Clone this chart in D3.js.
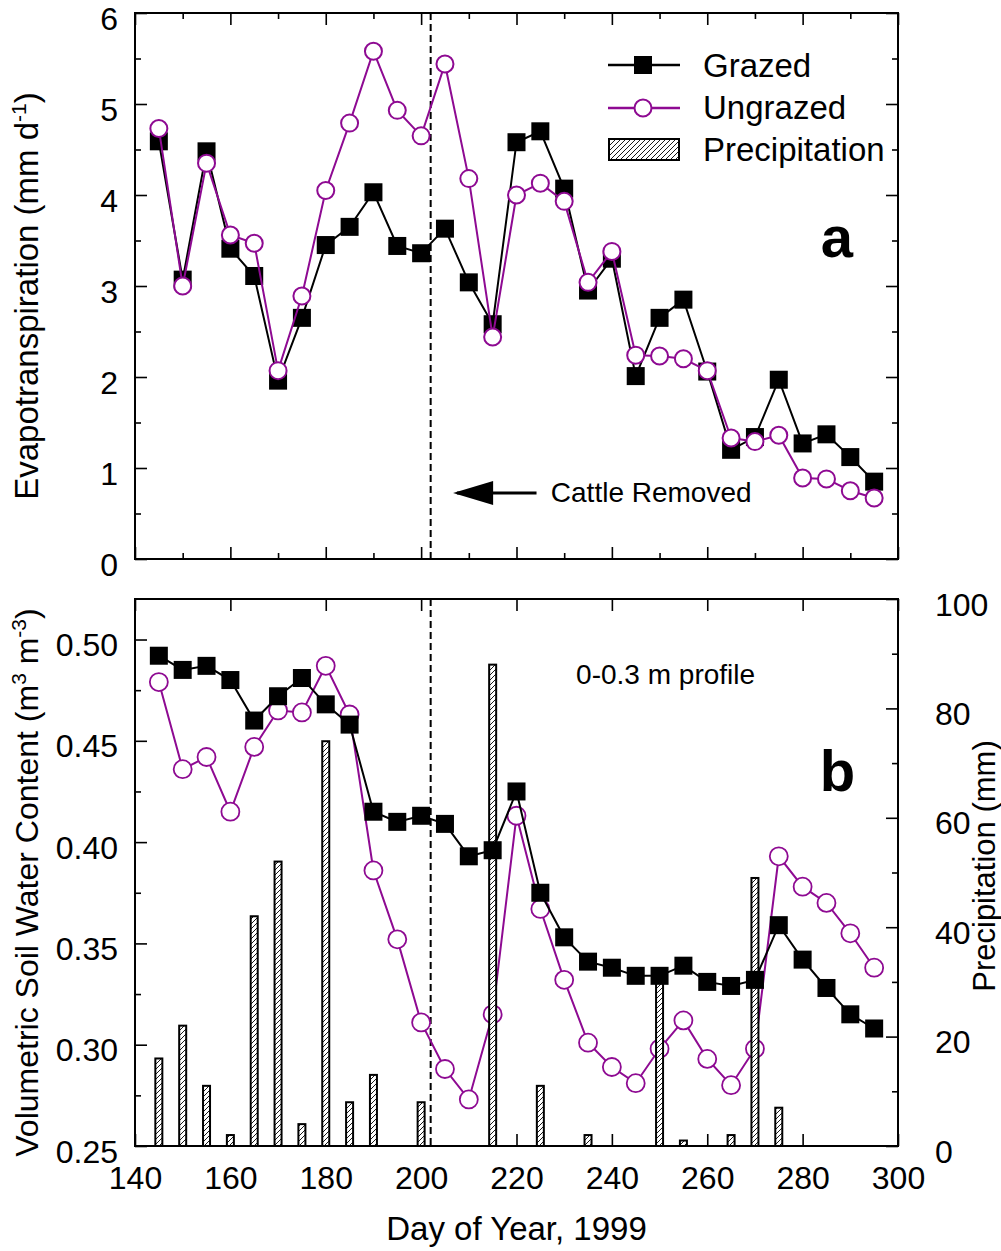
<!DOCTYPE html>
<html>
<head>
<meta charset="utf-8">
<script src="https://cdn.jsdelivr.net/npm/d3@7"></script>
<style>
  html, body { margin: 0; padding: 0; background: #fff; }
  svg { display: block; }
  text { font-family: "Liberation Sans", Arial, sans-serif; fill: #000; }
</style>
</head>
<body>
<svg id="chart" width="1001" height="1251"></svg>
<script>
// ---------------- DATA ----------------
const days = [145,150,155,160,165,170,175,180,185,190,195,200,205,210,215,220,225,230,235,240,245,250,255,260,265,270,275,280,285,290,295];
const etGrazed   = [4.59,3.07,4.48,3.41,3.11,1.96,2.65,3.45,3.65,4.03,3.44,3.36,3.63,3.04,2.58,4.58,4.70,4.07,2.95,3.30,2.01,2.65,2.85,2.06,1.20,1.34,1.97,1.27,1.37,1.12,0.85];
const etUngrazed = [4.73,3.00,4.35,3.56,3.47,2.07,2.89,4.05,4.79,5.58,4.93,4.65,5.44,4.18,2.44,4.00,4.13,3.93,3.04,3.38,2.24,2.23,2.20,2.07,1.33,1.29,1.36,0.89,0.88,0.75,0.67];
const swcGrazed   = [0.492,0.485,0.487,0.480,0.460,0.472,0.481,0.468,0.458,0.415,0.410,0.413,0.409,0.393,0.396,0.425,0.375,0.353,0.341,0.338,0.334,0.334,0.339,0.331,0.329,0.332,0.359,0.342,0.328,0.315,0.308];
const swcUngrazed = [0.479,0.436,0.442,0.415,0.447,0.465,0.464,0.487,0.463,0.386,0.352,0.311,0.288,0.273,0.315,0.413,0.367,0.332,0.301,0.289,0.281,0.298,0.312,0.293,0.280,0.298,0.393,0.378,0.370,0.355,0.338];
const precip = [16,22,11,2,42,52,4,74,8,13,0,8,0,0,88,0,11,0,2,0,0,30,1,0,2,49,7,0,0,0,0];
const xTicks = [140,160,180,200,220,240,260,280,300];
const etTicks = [0,1,2,3,4,5,6];
const swcTicks = [0.25,0.30,0.35,0.40,0.45,0.50];
const precipTicks = [0,20,40,60,80,100];
const cattleRemovedDay = 202;

// ---------------- LAYOUT ----------------
const svg = d3.select("#chart");
const L = 135, R = 898;
const topA = 13, botA = 559;
const topB = 599, botB = 1146;
const purple = "#8e0a92";
const tickFont = 32;

const x = d3.scaleLinear().domain([140, 300]).range([L, R]);
const yET = d3.scaleLinear().domain([0, 6]).range([botA, topA]);
const ySWC = d3.scaleLinear().domain([0.25, 0.52]).range([botB, topB]);
const yP = d3.scaleLinear().domain([0, 100]).range([botB, topB]);

// hatch pattern
const defs = svg.append("defs");
const pat = defs.append("pattern").attr("id", "hatch").attr("patternUnits", "userSpaceOnUse")
  .attr("width", 5).attr("height", 5);
pat.append("rect").attr("width", 5).attr("height", 5).attr("fill", "#fff");
pat.append("path").attr("d", "M-1,1 l2,-2 M0,5 l5,-5 M4,6 l2,-2")
  .attr("stroke", "#000").attr("stroke-width", 0.9);

function styleAxis(g) {
  g.select(".domain").remove();
  g.selectAll("line").attr("stroke", "#000").attr("stroke-width", 1.6);
  g.selectAll("text").attr("font-size", tickFont).attr("font-family", '"Liberation Sans", Arial, sans-serif').attr("fill", "#000");
}
function lowerLabels(g) {
  g.selectAll("text").attr("dy", "0.5em");
}

// ---------------- PANEL A ----------------
const gA = svg.append("g");
const xMinorA = d3.range(150, 300, 20);
gA.append("g").attr("transform", `translate(0,${botA})`)
  .call(d3.axisBottom(x).tickValues(xTicks).tickSize(-12).tickFormat("")).call(styleAxis);
gA.append("g").attr("transform", `translate(0,${botA})`)
  .call(d3.axisBottom(x).tickValues(xMinorA).tickSize(-6).tickFormat("")).call(styleAxis);
gA.append("g").attr("transform", `translate(0,${topA})`)
  .call(d3.axisTop(x).tickValues(xTicks).tickSize(-12).tickFormat("")).call(styleAxis);
gA.append("g").attr("transform", `translate(0,${topA})`)
  .call(d3.axisTop(x).tickValues(xMinorA).tickSize(-6).tickFormat("")).call(styleAxis);
const etMinor = d3.range(0.5, 6, 1);
gA.append("g").attr("transform", `translate(${L},0)`)
  .call(d3.axisLeft(yET).tickValues(etTicks).tickSize(-12).tickPadding(17).tickFormat(d3.format("d"))).call(styleAxis).call(lowerLabels);
gA.append("g").attr("transform", `translate(${L},0)`)
  .call(d3.axisLeft(yET).tickValues(etMinor).tickSize(-6).tickFormat("")).call(styleAxis);
gA.append("g").attr("transform", `translate(${R},0)`)
  .call(d3.axisRight(yET).tickValues(etTicks).tickSize(-12).tickFormat("")).call(styleAxis);
gA.append("g").attr("transform", `translate(${R},0)`)
  .call(d3.axisRight(yET).tickValues(etMinor).tickSize(-6).tickFormat("")).call(styleAxis);

gA.append("line").attr("x1", x(cattleRemovedDay)).attr("x2", x(cattleRemovedDay))
  .attr("y1", topA).attr("y2", botA).attr("stroke", "#000").attr("stroke-width", 2).attr("stroke-dasharray", "7,4");

gA.append("rect").attr("x", L).attr("y", topA).attr("width", R - L).attr("height", botA - topA)
  .attr("fill", "none").attr("stroke", "#000").attr("stroke-width", 2);

const lineA = (vals) => d3.line().x((d, i) => x(days[i])).y(d => yET(d))(vals);
gA.append("path").attr("d", lineA(etGrazed)).attr("fill", "none").attr("stroke", "#000").attr("stroke-width", 2);
gA.selectAll(".sqA").data(etGrazed).join("rect")
  .attr("x", (d, i) => x(days[i]) - 9).attr("y", d => yET(d) - 9).attr("width", 18).attr("height", 18).attr("fill", "#000");
gA.append("path").attr("d", lineA(etUngrazed)).attr("fill", "none").attr("stroke", purple).attr("stroke-width", 2);
gA.selectAll(".ciA").data(etUngrazed).join("circle")
  .attr("cx", (d, i) => x(days[i])).attr("cy", d => yET(d)).attr("r", 8.5)
  .attr("fill", "#fff").attr("stroke", purple).attr("stroke-width", 2);

const arrY = yET(0.725);
gA.append("line").attr("x1", x(207.5)).attr("x2", x(224.2)).attr("y1", arrY).attr("y2", arrY)
  .attr("stroke", "#000").attr("stroke-width", 3);
gA.append("path").attr("d", `M${x(206.7)},${arrY} L${x(215.1)},${arrY - 12} L${x(215.1)},${arrY + 12} Z`).attr("fill", "#000");
gA.append("text").attr("x", x(227.2)).attr("y", yET(0.63)).attr("font-size", 28).text("Cattle Removed");
gA.append("text").attr("x", x(283.8)).attr("y", yET(3.32)).attr("font-size", 58).attr("font-weight", "bold").text("a");

gA.append("text").attr("transform", `translate(38,${(topA + botA) / 2 + 10}) rotate(-90)`)
  .attr("text-anchor", "middle").attr("font-size", 33)
  .call(t => {
    t.append("tspan").text("Evapotranspiration (mm d");
    t.append("tspan").attr("dy", -12).attr("font-size", 21).text("-1");
    t.append("tspan").attr("dy", 12).text(")");
  });

// legend
const lg = svg.append("g");
lg.append("line").attr("x1", 608).attr("x2", 680).attr("y1", 65).attr("y2", 65).attr("stroke", "#000").attr("stroke-width", 2.5);
lg.append("rect").attr("x", 634).attr("y", 56).attr("width", 18).attr("height", 18).attr("fill", "#000");
lg.append("text").attr("x", 703).attr("y", 77).attr("font-size", 33).text("Grazed");
lg.append("line").attr("x1", 608).attr("x2", 680).attr("y1", 108).attr("y2", 108).attr("stroke", purple).attr("stroke-width", 2.5);
lg.append("circle").attr("cx", 643).attr("cy", 108).attr("r", 8.5).attr("fill", "#fff").attr("stroke", purple).attr("stroke-width", 2);
lg.append("text").attr("x", 703).attr("y", 119).attr("font-size", 33).text("Ungrazed");
lg.append("rect").attr("x", 609).attr("y", 139).attr("width", 70).attr("height", 21)
  .attr("fill", "url(#hatch)").attr("stroke", "#000").attr("stroke-width", 2);
lg.append("text").attr("x", 703).attr("y", 161).attr("font-size", 33).text("Precipitation");

// ---------------- PANEL B ----------------
const gB = svg.append("g");
gB.append("g").attr("transform", `translate(0,${botB})`)
  .call(d3.axisBottom(x).tickValues(xTicks).tickSize(-12).tickPadding(20).tickFormat(d3.format("d"))).call(styleAxis);
gB.append("g").attr("transform", `translate(0,${topB})`)
  .call(d3.axisTop(x).tickValues(xTicks).tickSize(-12).tickFormat("")).call(styleAxis);
const swcMinor = d3.range(0.275, 0.52, 0.05);
gB.append("g").attr("transform", `translate(${L},0)`)
  .call(d3.axisLeft(ySWC).tickValues(swcTicks).tickSize(-12).tickPadding(17).tickFormat(d3.format(".2f"))).call(styleAxis).call(lowerLabels);
gB.append("g").attr("transform", `translate(${L},0)`)
  .call(d3.axisLeft(ySWC).tickValues(swcMinor).tickSize(-6).tickFormat("")).call(styleAxis);
const pMinor = d3.range(10, 100, 20);
gB.append("g").attr("transform", `translate(${R},0)`)
  .call(d3.axisRight(yP).tickValues(precipTicks).tickSize(-12).tickPadding(37).tickFormat(d3.format("d"))).call(styleAxis).call(lowerLabels);
gB.append("g").attr("transform", `translate(${R},0)`)
  .call(d3.axisRight(yP).tickValues(pMinor).tickSize(-6).tickFormat("")).call(styleAxis);

gB.append("line").attr("x1", x(cattleRemovedDay)).attr("x2", x(cattleRemovedDay))
  .attr("y1", topB).attr("y2", botB).attr("stroke", "#000").attr("stroke-width", 2).attr("stroke-dasharray", "7,4");

const lineB = (vals) => d3.line().x((d, i) => x(days[i])).y(d => ySWC(d))(vals);
gB.append("path").attr("d", lineB(swcUngrazed)).attr("fill", "none").attr("stroke", purple).attr("stroke-width", 2);
gB.selectAll(".ciB").data(swcUngrazed).join("circle")
  .attr("cx", (d, i) => x(days[i])).attr("cy", d => ySWC(d)).attr("r", 9)
  .attr("fill", "#fff").attr("stroke", purple).attr("stroke-width", 1.8);
gB.selectAll(".bar").data(precip).join("rect")
  .attr("x", (d, i) => x(days[i]) - 3.5).attr("width", 7)
  .attr("y", d => yP(d)).attr("height", d => yP(0) - yP(d))
  .attr("fill", "url(#hatch)").attr("stroke", "#000").attr("stroke-width", 2);
gB.append("path").attr("d", lineB(swcGrazed)).attr("fill", "none").attr("stroke", "#000").attr("stroke-width", 2);
gB.selectAll(".sqB").data(swcGrazed).join("rect")
  .attr("x", (d, i) => x(days[i]) - 9).attr("y", d => ySWC(d) - 9).attr("width", 18).attr("height", 18).attr("fill", "#000");

gB.append("rect").attr("x", L).attr("y", topB).attr("width", R - L).attr("height", botB - topB)
  .attr("fill", "none").attr("stroke", "#000").attr("stroke-width", 2);

gB.append("text").attr("x", x(232.5)).attr("y", yP(84.5)).attr("font-size", 28).text("0-0.3 m profile");
gB.append("text").attr("x", x(283.6)).attr("y", ySWC(0.425)).attr("font-size", 58).attr("font-weight", "bold").text("b");

gB.append("text").attr("transform", `translate(38,${(topB + botB) / 2 + 10}) rotate(-90)`)
  .attr("text-anchor", "middle").attr("font-size", 32)
  .call(t => {
    t.append("tspan").text("Volumetric Soil Water Content (m");
    t.append("tspan").attr("dy", -12).attr("font-size", 21).text("3");
    t.append("tspan").attr("dy", 12).text(" m");
    t.append("tspan").attr("dy", -12).attr("font-size", 21).text("-3");
    t.append("tspan").attr("dy", 12).text(")");
  });
gB.append("text").attr("transform", `translate(995,866) rotate(-90)`)
  .attr("text-anchor", "middle").attr("font-size", 31).text("Precipitation (mm)");
gB.append("text").attr("x", (L + R) / 2).attr("y", 1240).attr("text-anchor", "middle")
  .attr("font-size", 33).text("Day of Year, 1999");
</script>
</body>
</html>
